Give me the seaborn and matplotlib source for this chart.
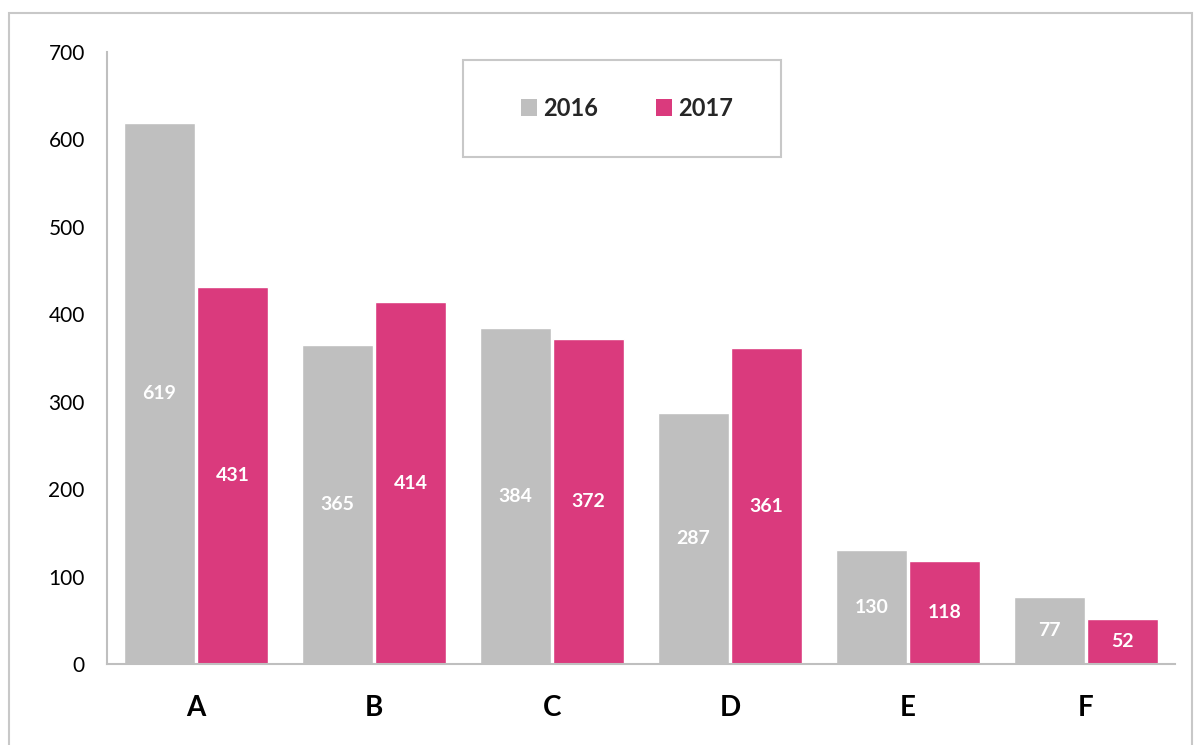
import matplotlib
matplotlib.use("Agg")
import matplotlib.pyplot as plt
from matplotlib.patches import Patch, Rectangle
import pandas as pd
import seaborn as sns

categories = ["A", "B", "C", "D", "E", "F"]
values_2016 = [619, 365, 384, 287, 130, 77]
values_2017 = [431, 414, 372, 361, 118, 52]
years = ["2016", "2017"]
colors = ["#BFBFBF", "#DA3A7D"]

df = pd.DataFrame({
    "cat": categories * 2,
    "value": values_2016 + values_2017,
    "year": [years[0]] * len(categories) + [years[1]] * len(categories),
})

sns.set_theme(style="white")
plt.rcParams["font.family"] = ["Lato", "DejaVu Sans"]

W, H = 1195, 745
fig = plt.figure(figsize=(W / 100, H / 100), dpi=100)
ax = fig.add_axes([107 / W, (H - 664) / H, (1175 - 107) / W, (664 - 52) / H])

sns.barplot(data=df, x="cat", y="value", hue="year", palette=colors,
            width=0.82, gap=0.04, saturation=1, ax=ax, legend=False)

for cont in ax.containers:
    ax.bar_label(cont, label_type="center", color="white",
                 fontweight="bold", fontsize=14)

ax.set_xlim(-0.5, 5.5)
ax.set_ylim(0, 700)
ax.set_yticks(range(0, 701, 100))
ax.set_xlabel("")
ax.set_ylabel("")
ax.tick_params(axis="y", length=0, pad=16, labelsize=15, labelcolor="black")
ax.tick_params(axis="x", length=0, pad=22, labelsize=20, labelcolor="black")
for lbl in ax.get_xticklabels():
    lbl.set_fontweight("bold")
for side in ["top", "right"]:
    ax.spines[side].set_visible(False)
for side in ["left", "bottom"]:
    ax.spines[side].set_color("#BFBFBF")
    ax.spines[side].set_linewidth(1.5)
ax.grid(False)

# legend box
ax.add_patch(Rectangle((463 / W, (H - 157) / H), (781 - 463) / W, (157 - 60) / H,
                       transform=fig.transFigure, fill=False,
                       edgecolor="#C8C8C8", linewidth=1.5, clip_on=False))
handles = [Patch(facecolor=c, edgecolor="none") for c in colors]
leg = fig.legend(handles, years, loc="center", bbox_to_anchor=(627 / W, (H - 108) / H),
                 ncol=2, frameon=False, handlelength=0.7, handleheight=0.7,
                 handletextpad=0.25, columnspacing=2.45, prop={"weight": "bold", "size": 17})

# outer chart frame
fig.add_artist(Rectangle((9 / W, -0.05), (1192 - 9) / W, (H - 13) / H + 0.05,
                         transform=fig.transFigure, fill=False,
                         edgecolor="#C8C8C8", linewidth=1.5))

fig.savefig("out.png", dpi=100)
